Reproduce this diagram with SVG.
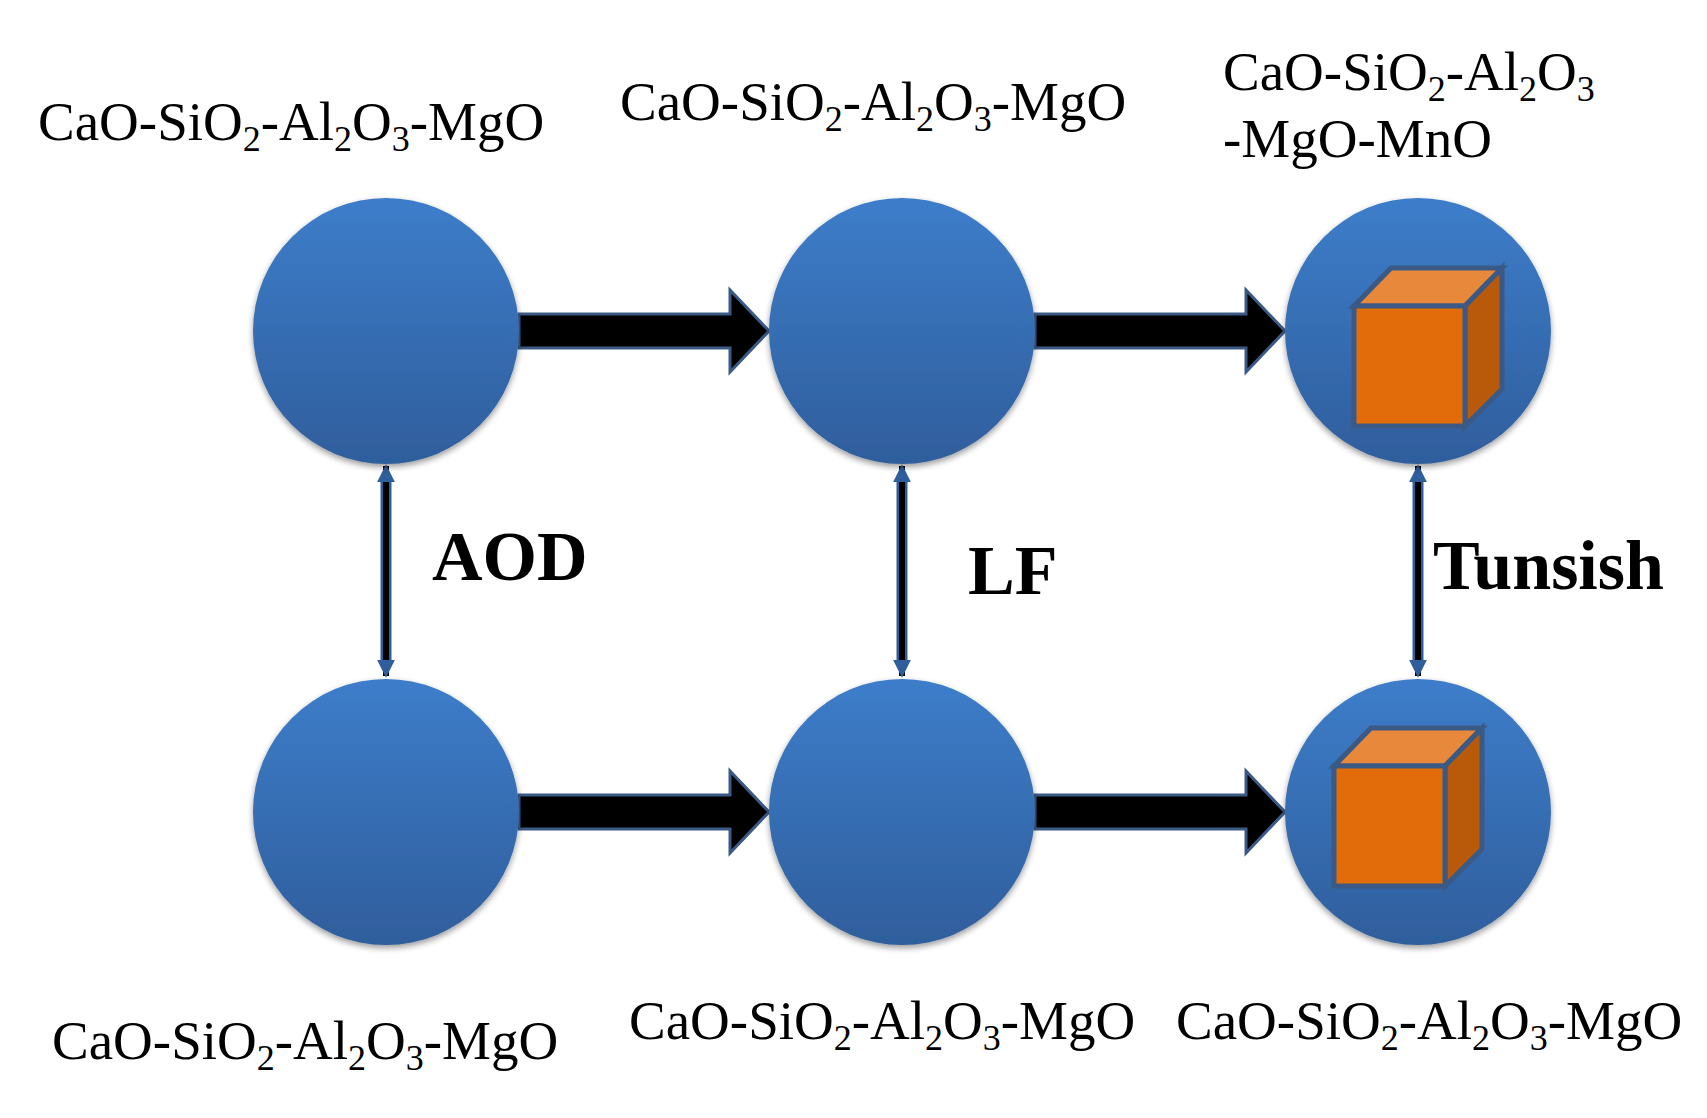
<svg xmlns="http://www.w3.org/2000/svg" width="1707" height="1118" viewBox="0 0 1707 1118">
<defs>
<linearGradient id="g" x1="0" y1="0" x2="0" y2="1"><stop offset="0" stop-color="#3d7dca"/><stop offset="1" stop-color="#2f5e9c"/></linearGradient>
<filter id="sh" x="-20%" y="-20%" width="140%" height="140%"><feGaussianBlur in="SourceAlpha" stdDeviation="3"/><feOffset dy="3"/><feComponentTransfer><feFuncA type="linear" slope="0.4"/></feComponentTransfer><feMerge><feMergeNode/><feMergeNode in="SourceGraphic"/></feMerge></filter>
<marker id="ah" viewBox="0 0 10 10" refX="9" refY="5" markerWidth="3" markerHeight="3" orient="auto-start-reverse"><path d="M0,0 L10,5 L0,10 z" fill="#2f5e9c"/></marker>
<g id="cube">
<polygon points="0,0 37,-38 148,-38 111,0" fill="#e8883a" stroke="#3a5a85" stroke-width="5"/>
<polygon points="111,0 148,-38 148,83 111,120" fill="#b85a0a" stroke="#3a5a85" stroke-width="5"/>
<rect x="0" y="0" width="111" height="120" fill="#e36c0a" stroke="#3a5a85" stroke-width="5"/>
</g>
</defs>
<style>
.t{font-family:"Liberation Serif",serif;font-size:55px;fill:#000}
.b{font-family:"Liberation Serif",serif;font-size:70px;font-weight:bold;fill:#000}
.n{fill:url(#g);filter:url(#sh)}
.ha{fill:#000;stroke:#3a5a85;stroke-width:3}
.va{stroke:#000;stroke-width:6;fill:none;marker-start:url(#ah);marker-end:url(#ah)}
</style>
<rect width="1707" height="1118" fill="#fff"/>
<g id="connectors">
<path class="ha" d="M519,314 H730 V290 L769,331 L730,372 V348 H519 Z"/>
<path class="ha" d="M1035,314 H1246 V290 L1285,331 L1246,372 V348 H1035 Z"/>
<path class="ha" d="M519,795 H730 V771 L769,812 L730,853 V829 H519 Z"/>
<path class="ha" d="M1035,795 H1246 V771 L1285,812 L1246,853 V829 H1035 Z"/>
<g stroke="#2f5e9c" stroke-width="11"><line x1="386" y1="478" x2="386" y2="664"/><line x1="902" y1="478" x2="902" y2="664"/><line x1="1418" y1="478" x2="1418" y2="664"/></g>
<line class="va" x1="386" y1="466" x2="386" y2="676"/>
<line class="va" x1="902" y1="466" x2="902" y2="676"/>
<line class="va" x1="1418" y1="466" x2="1418" y2="676"/>
</g>
<g id="n1"><circle class="n" cx="386" cy="331" r="133"/><text class="t" x="38" y="140">CaO-SiO<tspan font-size="36" dy="11">2</tspan><tspan dy="-11">-Al</tspan><tspan font-size="36" dy="11">2</tspan><tspan dy="-11">O</tspan><tspan font-size="36" dy="11">3</tspan><tspan dy="-11">-MgO</tspan></text></g>
<g id="n2"><circle class="n" cx="902" cy="331" r="133"/><text class="t" x="620" y="120">CaO-SiO<tspan font-size="36" dy="11">2</tspan><tspan dy="-11">-Al</tspan><tspan font-size="36" dy="11">2</tspan><tspan dy="-11">O</tspan><tspan font-size="36" dy="11">3</tspan><tspan dy="-11">-MgO</tspan></text></g>
<g id="n3"><circle class="n" cx="1418" cy="331" r="133"/><use href="#cube" x="1354" y="306"/><text class="t" x="1223" y="90">CaO-SiO<tspan font-size="36" dy="11">2</tspan><tspan dy="-11">-Al</tspan><tspan font-size="36" dy="11">2</tspan><tspan dy="-11">O</tspan><tspan font-size="36" dy="11">3</tspan></text><text class="t" x="1223" y="157">-MgO-MnO</text></g>
<g id="n4"><circle class="n" cx="386" cy="812" r="133"/><text class="t" x="52" y="1059">CaO-SiO<tspan font-size="36" dy="11">2</tspan><tspan dy="-11">-Al</tspan><tspan font-size="36" dy="11">2</tspan><tspan dy="-11">O</tspan><tspan font-size="36" dy="11">3</tspan><tspan dy="-11">-MgO</tspan></text></g>
<g id="n5"><circle class="n" cx="902" cy="812" r="133"/><text class="t" x="629" y="1039">CaO-SiO<tspan font-size="36" dy="11">2</tspan><tspan dy="-11">-Al</tspan><tspan font-size="36" dy="11">2</tspan><tspan dy="-11">O</tspan><tspan font-size="36" dy="11">3</tspan><tspan dy="-11">-MgO</tspan></text></g>
<g id="n6"><circle class="n" cx="1418" cy="812" r="133"/><use href="#cube" x="1334" y="766"/><text class="t" x="1176" y="1039">CaO-SiO<tspan font-size="36" dy="11">2</tspan><tspan dy="-11">-Al</tspan><tspan font-size="36" dy="11">2</tspan><tspan dy="-11">O</tspan><tspan font-size="36" dy="11">3</tspan><tspan dy="-11">-MgO</tspan></text></g>
<g id="labels"><text class="b" x="432" y="580">AOD</text><text class="b" x="968" y="594">LF</text><text class="b" x="1433" y="589">Tunsish</text></g>
</svg>
